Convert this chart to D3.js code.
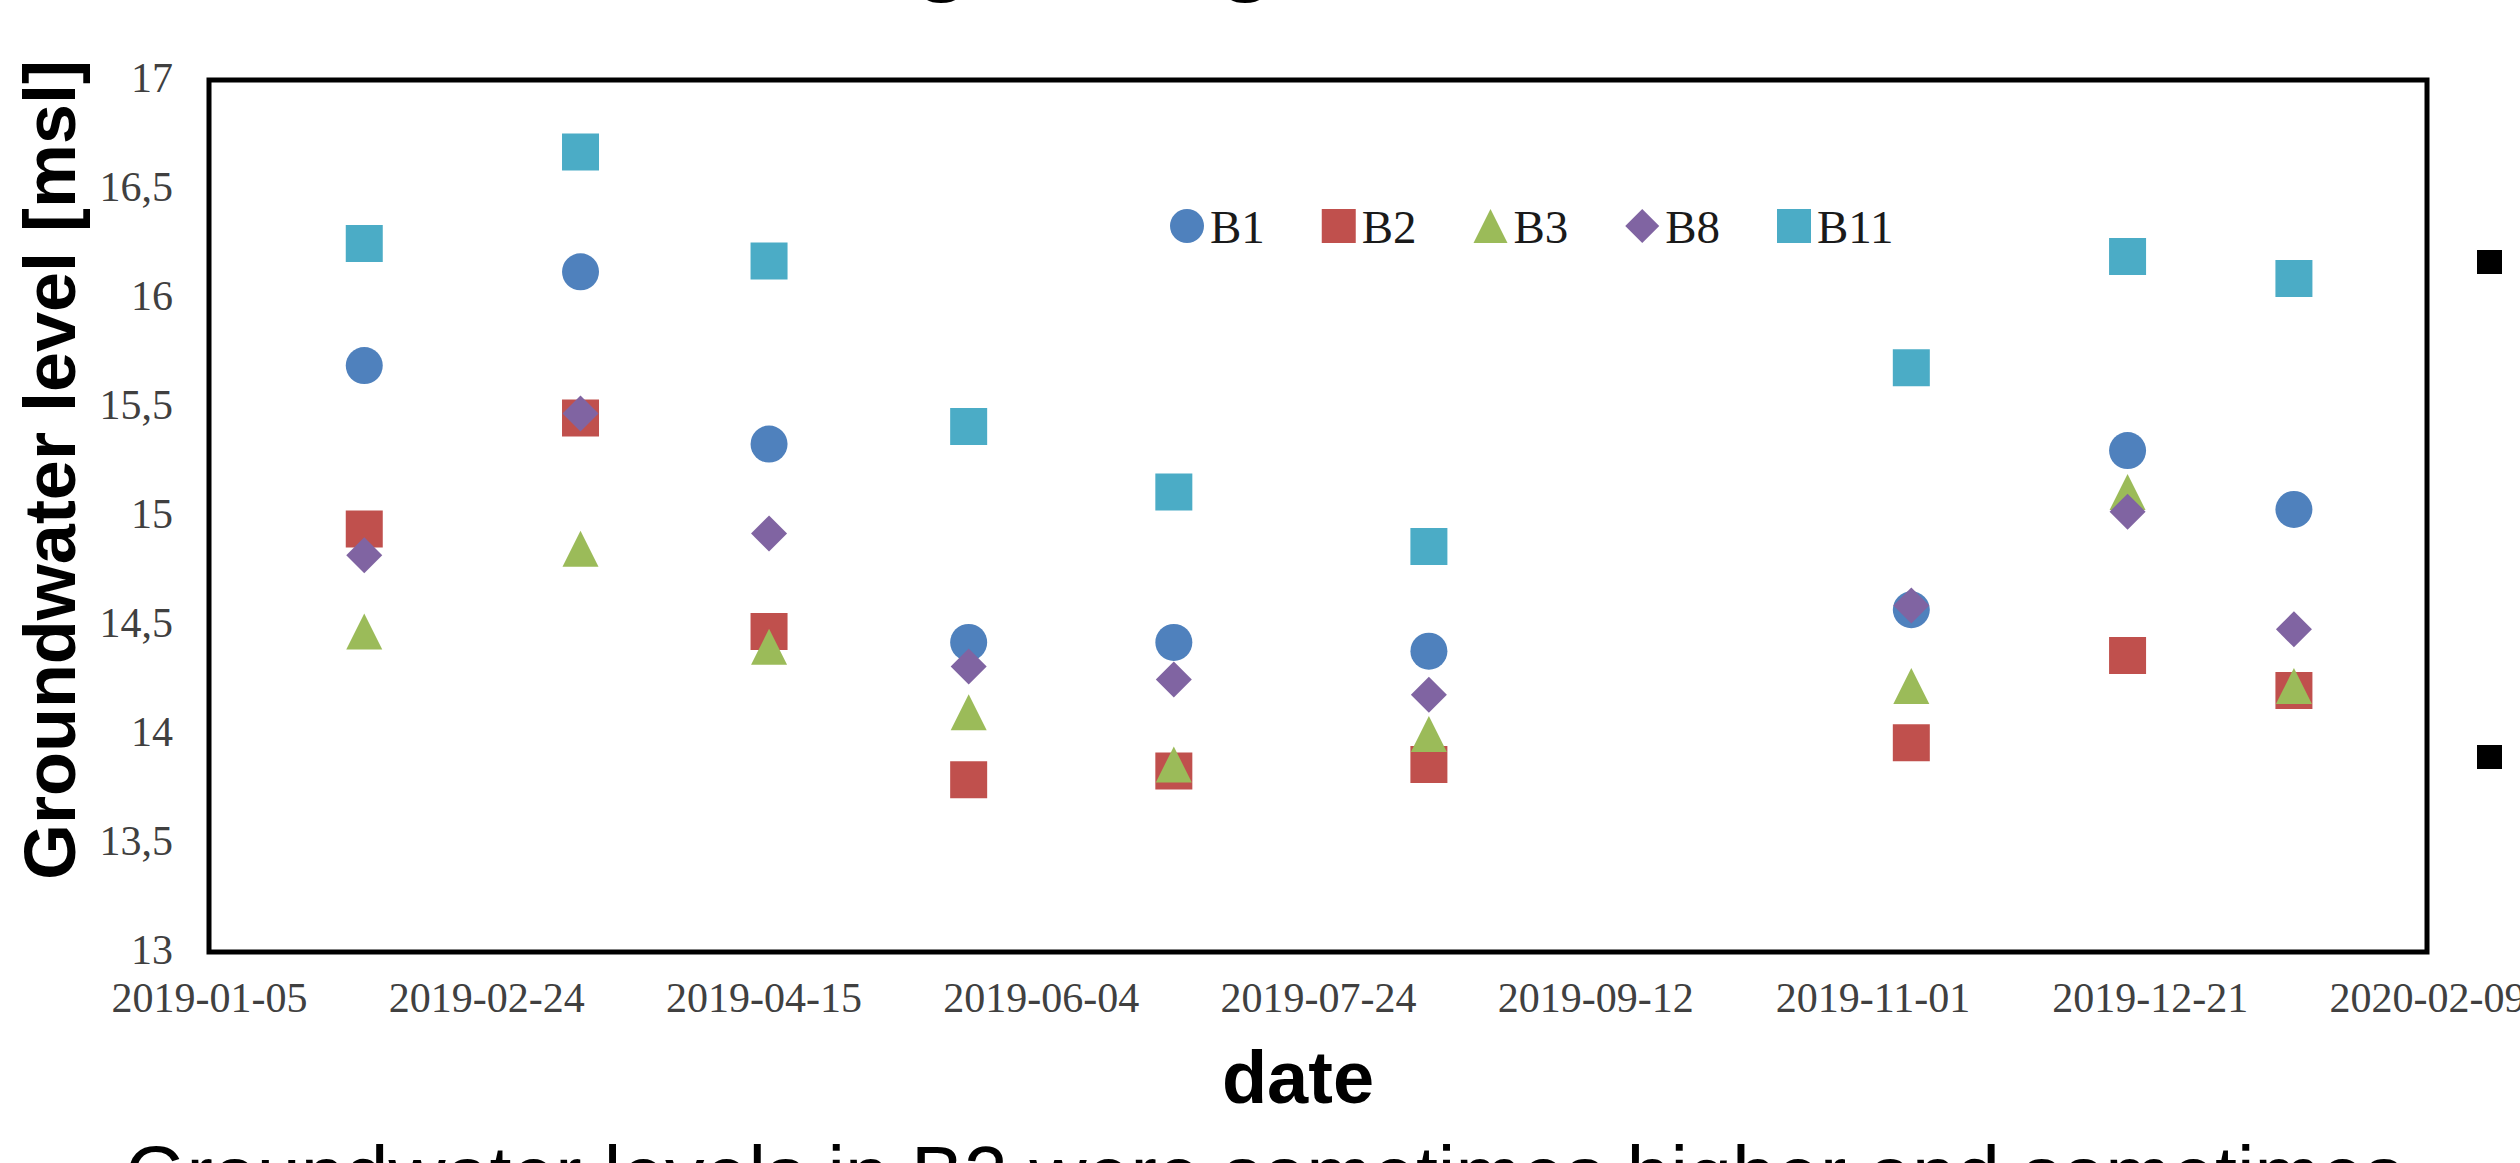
<!DOCTYPE html>
<html>
<head>
<meta charset="utf-8">
<script src="https://cdn.jsdelivr.net/npm/d3@7"></script>
<style>
  html, body { margin: 0; padding: 0; background: #ffffff; overflow: hidden; }
  svg { display: block; }
</style>
</head>
<body>
<svg id="chart" width="2520" height="1163"></svg>
<script>
// ---------------- data ----------------
const dates = ["2019-02-02","2019-03-13","2019-04-16","2019-05-22","2019-06-28","2019-08-13","2019-11-08","2019-12-17","2020-01-16"];
const seriesNames = ["B1","B2","B3","B8","B11"];
const B1  = [15.69,16.12,15.33,14.42,14.42,14.38,14.57,15.30,15.03];
const B2  = [14.94,15.45,14.47,13.79,13.83,13.86,13.96,14.36,14.20];
const B3  = [14.47,14.85,14.40,14.10,13.86,14.00,14.22,15.11,14.22];
const B8  = [14.82,15.47,14.92,14.31,14.25,14.18,14.59,15.02,14.48];
const B11 = [16.25,16.67,16.17,15.41,15.11,14.86,15.68,16.19,16.09];
const xTickDates  = ["2019-01-05","2019-02-24","2019-04-15","2019-06-04","2019-07-24","2019-09-12","2019-11-01","2019-12-21","2020-02-09"];
const yTickValues = [13,13.5,14,14.5,15,15.5,16,16.5,17];
const yTickLabels = ["13","13,5","14","14,5","15","15,5","16","16,5","17"];
const titleText  = "Changes in groundwater level";
const xTitle = "date";
const yTitle = "Groundwater level [msl]";
const bodyText = "Groundwater levels in B2 were sometimes higher and sometimes";

// ---------------- setup ----------------
const svg = d3.select("#chart");
const parse = d3.utcParse("%Y-%m-%d");
const plot = { left: 209, right: 2427, top: 80, bottom: 952 };

const x = d3.scaleUtc()
  .domain([parse(xTickDates[0]), parse(xTickDates[xTickDates.length - 1])])
  .range([plot.left, plot.right]);
const y = d3.scaleLinear().domain([13, 17]).range([plot.bottom, plot.top]);

const colors = { B1: "#4F81BD", B2: "#C0504D", B3: "#9BBB59", B8: "#8064A2", B11: "#4BACC6" };

const shapes = {
  circle:  { draw(c, size) { const r = Math.sqrt(size) / 2; c.moveTo(r, 0); c.arc(0, 0, r, 0, 2 * Math.PI); } },
  square:  { draw(c, size) { const h = Math.sqrt(size) / 2; c.rect(-h, -h, 2 * h, 2 * h); } },
  triangle:{ draw(c, size) { const h = Math.sqrt(size) / 2; c.moveTo(0, -h); c.lineTo(h, h); c.lineTo(-h, h); c.closePath(); } },
  diamond: { draw(c, size) { const h = Math.sqrt(size) / 2; c.moveTo(0, -h); c.lineTo(h, 0); c.lineTo(0, h); c.lineTo(-h, 0); c.closePath(); } }
};
const seriesDefs = [
  { name: "B1",  values: B1,  shape: shapes.circle,   size: 37 },
  { name: "B2",  values: B2,  shape: shapes.square,   size: 37 },
  { name: "B3",  values: B3,  shape: shapes.triangle, size: 36 },
  { name: "B8",  values: B8,  shape: shapes.diamond,  size: 36 },
  { name: "B11", values: B11, shape: shapes.square,   size: 37 }
];

// ---------------- slide title (cut off at top) ----------------
svg.append("text")
  .attr("x", 673).attr("y", -17)
  .attr("font-family", "Liberation Sans, Arial, sans-serif")
  .attr("font-weight", "bold")
  .attr("font-size", 96)
  .attr("fill", "#000")
  .text(titleText);

// ---------------- axes ----------------
const yAxis = d3.axisLeft(y)
  .tickValues(yTickValues)
  .tickFormat((d, i) => yTickLabels[i])
  .tickSize(0).tickPadding(36);
const gy = svg.append("g").attr("transform", `translate(${plot.left},0)`).call(yAxis);
gy.select(".domain").remove();
gy.selectAll("text")
  .attr("font-family", "Liberation Serif, 'Times New Roman', serif")
  .attr("font-size", 42)
  .attr("fill", "#404040")
  .attr("dy", "0.28em");

const xAxis = d3.axisBottom(x)
  .tickValues(xTickDates.map(parse))
  .tickFormat(d3.utcFormat("%Y-%m-%d"))
  .tickSize(0).tickPadding(60);
const gx = svg.append("g").attr("transform", `translate(0,${plot.bottom})`).call(xAxis);
gx.select(".domain").remove();
gx.selectAll("text")
  .attr("font-family", "Liberation Serif, 'Times New Roman', serif")
  .attr("font-size", 42)
  .attr("fill", "#404040")
  .attr("dy", 0);

// ---------------- plot box ----------------
svg.append("rect")
  .attr("x", x.range()[0]).attr("y", y(17))
  .attr("width", x.range()[1] - x.range()[0])
  .attr("height", y(13) - y(17))
  .attr("fill", "none").attr("stroke", "#000").attr("stroke-width", 5);

// ---------------- markers ----------------
seriesDefs.forEach(s => {
  const sym = d3.symbol().type(s.shape).size(s.size * s.size);
  svg.append("g").selectAll("path")
    .data(s.values.map((v, i) => ({ date: parse(dates[i]), v })))
    .join("path")
    .attr("d", sym)
    .attr("transform", d => `translate(${x(d.date)},${y(d.v)})`)
    .attr("fill", colors[s.name]);
});

// ---------------- legend ----------------
const legendX = d3.scalePoint().domain(seriesNames).range([1187, 1794]);
const legendY = 226;
const lg = svg.append("g");
seriesDefs.forEach(s => {
  const cx = legendX(s.name);
  lg.append("path")
    .attr("d", d3.symbol().type(s.shape).size(34 * 34))
    .attr("transform", `translate(${cx},${legendY})`)
    .attr("fill", colors[s.name]);
  lg.append("text")
    .attr("x", cx + 23).attr("y", legendY + 17)
    .attr("font-family", "Liberation Serif, 'Times New Roman', serif")
    .attr("font-size", 47)
    .attr("fill", "#1a1a1a")
    .text(s.name);
});

// ---------------- axis titles ----------------
svg.append("text")
  .attr("x", 1298).attr("y", 1103)
  .attr("text-anchor", "middle")
  .attr("font-family", "Liberation Sans, Arial, sans-serif")
  .attr("font-weight", "bold")
  .attr("font-size", 74)
  .attr("fill", "#000")
  .text(xTitle);

svg.append("text")
  .attr("transform", "translate(75,470) rotate(-90)")
  .attr("text-anchor", "middle")
  .attr("font-family", "Liberation Sans, Arial, sans-serif")
  .attr("font-weight", "bold")
  .attr("font-size", 72)
  .attr("fill", "#000")
  .text(yTitle);

// ---------------- slide body text (cut off) ----------------
svg.append("text")
  .attr("x", 125).attr("y", 1202)
  .attr("font-family", "Liberation Sans, Arial, sans-serif")
  .attr("font-size", 79)
  .attr("fill", "#000")
  .text(bodyText);

// ---------------- bullet markers at right edge ----------------
[262, 757].forEach(cy => {
  svg.append("rect")
    .attr("x", 2477).attr("y", cy - 12)
    .attr("width", 25).attr("height", 24)
    .attr("fill", "#000");
});
</script>
</body>
</html>
